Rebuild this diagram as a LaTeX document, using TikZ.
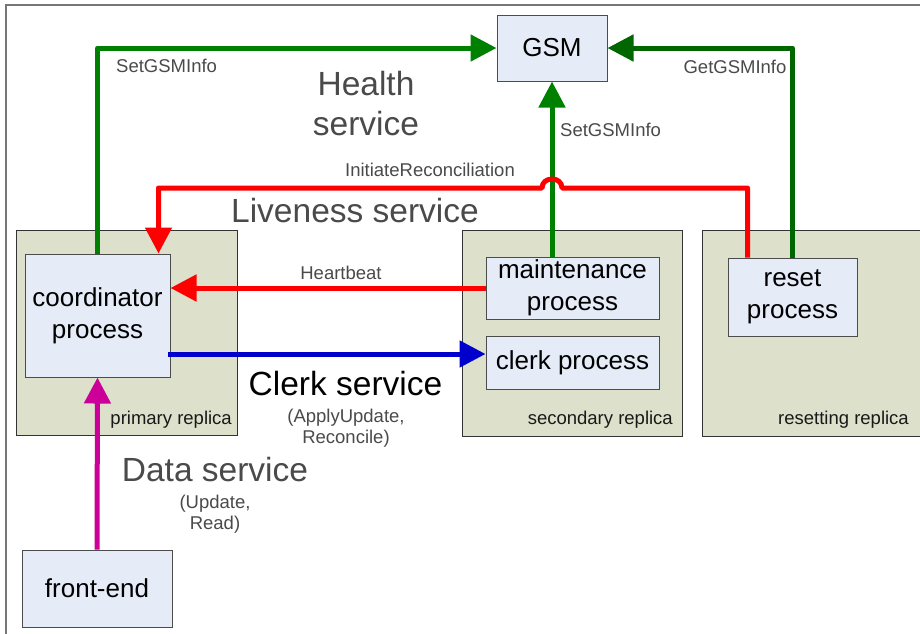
\documentclass[tikz,border=0pt]{standalone}
\usepackage{fontspec}
\setmainfont{Liberation Sans}
\usetikzlibrary{arrows.meta,calc}
\definecolor{replfill}{HTML}{DDE0CB}
\definecolor{procfill}{HTML}{E6ECF7}
\definecolor{gsgreen}{HTML}{008000}
\definecolor{dkgreen}{HTML}{006600}
\definecolor{lred}{HTML}{FF0000}
\definecolor{lblue}{HTML}{0000CC}
\definecolor{lmag}{HTML}{CC0099}
\definecolor{lbl}{HTML}{4A4A4A}
\definecolor{framegrey}{HTML}{777777}
\begin{document}
\begin{tikzpicture}[x=1pt,y=-1pt,
  replica/.style={draw=black!80, line width=1pt, fill=replfill, inner sep=0pt},
  proc/.style={draw=black!70, line width=1pt, fill=procfill, inner sep=0pt, align=center, font=\fontsize{26}{32}\selectfont},
  conn/.style={line width=5pt, line join=round, -{Triangle[length=26pt,width=26pt]}},
  small/.style={text=lbl, font=\fontsize{18.5}{21}\selectfont, inner sep=0pt, align=center},
  big/.style={text=lbl, font=\fontsize{33.5}{40}\selectfont, inner sep=0pt, align=center},
  repllbl/.style={text=black!90, font=\fontsize{18.5}{21}\selectfont, inner sep=0pt, anchor=east}]
\useasboundingbox (0,0) rectangle (920,633);
\clip (0,0) rectangle (920,633);
\fill[white] (0,0) rectangle (920,633);
\draw[framegrey, line width=2pt] (6,5) rectangle (940,650);

% replicas
\node[replica, minimum width=220.6pt, minimum height=205pt] (prim) at (127,332.5) {};
\node[replica, minimum width=220pt, minimum height=206pt] (sec) at (572,333) {};
\node[replica, minimum width=230pt, minimum height=206pt] (rstrep) at (817,333) {};
\node[repllbl] (primlbl) at (232,420) {primary replica};
\node[repllbl] (seclbl) at (673,420) {secondary replica};
\node[repllbl] (rstlbl) at (909,420) {resetting replica};

% processes
\node[proc, minimum width=145pt, minimum height=123pt] (coord) at (97.5,315.5) {coordinator\\process};
\node[proc, minimum width=173pt, minimum height=62pt] (maint) at (572.5,288) {maintenance\\process};
\node[proc, minimum width=173pt, minimum height=53pt] (clerk) at (572.5,362.5) {clerk process};
\node[proc, minimum width=129pt, minimum height=78pt] (reset) at (792.5,297) {reset\\process};
\node[proc, minimum width=150pt, minimum height=77pt] (fe) at (97,588.5) {front-end};
\node[proc, minimum width=110pt, minimum height=66pt] (gsm) at (552,48) {GSM};

% connectors
\draw[conn, gsgreen] (coord.north) |- (gsm.west);
\draw[conn, gsgreen] (gsm.south |- maint.north) -- (gsm.south);
\draw[conn, dkgreen] (reset.north) |- (gsm.east);
\coordinate (rs) at ($(reset.north west)+(20,0)$);
\coordinate (ct) at ($(coord.north east)+(-12,0)$);
\coordinate (jR) at (562,188);
\coordinate (jL) at (542,188);
\draw[conn, lred] (rs) |- (jR) .. controls (562,176) and (542,176) .. (jL) -| (ct);
\draw[conn, lred] (maint.west) -- (maint.west -| coord.east);
\coordinate (b1) at (168,354);
\draw[conn, lblue] (b1) -- (b1 -| clerk.west);
\draw[conn, lmag] (fe.north) -- (coord.south);

% labels
\node[small, anchor=west] (l1) at (116,66) {SetGSMInfo};
\node[big] (health) at (366,104) {Health\\service};
\node[small] (initr) at (430,170) {InitiateReconciliation};
\node[big] (live) at (355,211) {Liveness service};
\node[small, anchor=west] (l2) at (560,130) {SetGSMInfo};
\node[small] (getg) at (735,67) {GetGSMInfo};
\node[small] (hb) at (341,273) {Heartbeat};
\node[big, text=black] (clerksvc) at (345.5,384) {Clerk service};
\node[small] (clerkops) at (346,428) {(ApplyUpdate,\\Reconcile)};
\node[big] (datasvc) at (215,470) {Data service};
\node[small] (dataops) at (215,514) {(Update,\\Read)};
\end{tikzpicture}
\end{document}
